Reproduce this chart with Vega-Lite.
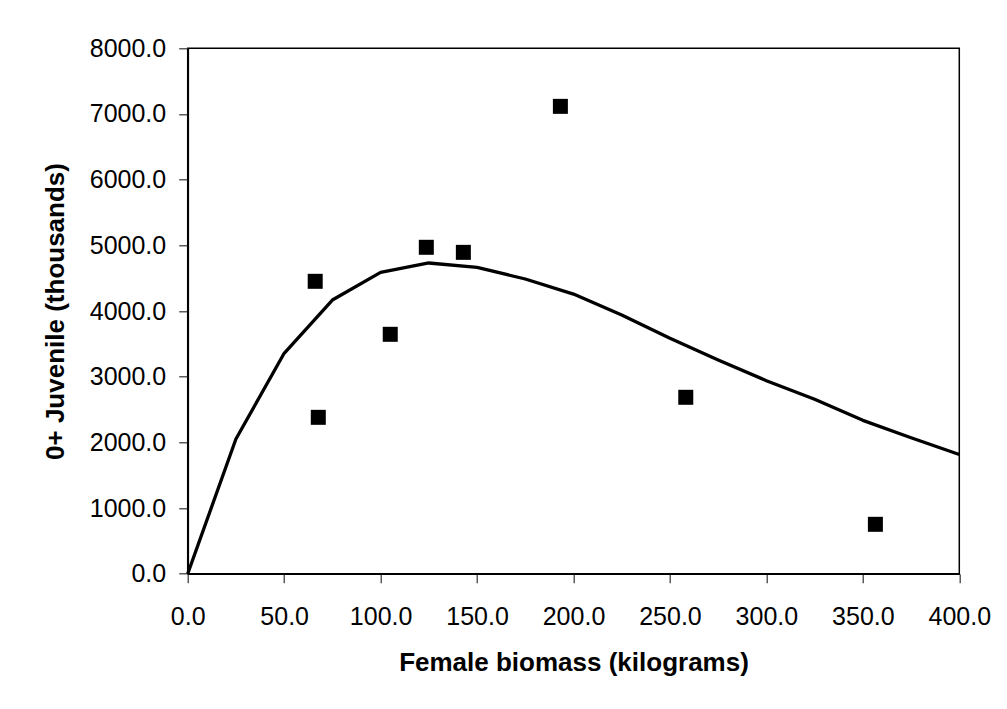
{
  "$schema": "https://vega.github.io/schema/vega-lite/v6.json",
  "width": 771.6,
  "height": 525.4,
  "autosize": {"type": "none"},
  "padding": {"left": 187.7, "top": 48.3, "right": 47.7, "bottom": 135.3},
  "background": "white",
  "config": {
    "font": "Liberation Sans",
    "view": {"stroke": "black", "strokeWidth": 1.5},
    "axis": {
      "grid": false,
      "domainColor": "black",
      "domainWidth": 1.8,
      "tickColor": "#333333",
      "tickWidth": 1.2,
      "tickSize": 9,
      "labelFont": "Liberation Sans",
      "labelFontSize": 25,
      "labelColor": "black",
      "labelFlush": false,
      "labelOverlap": false,
      "titleFont": "Liberation Sans",
      "titleFontSize": 26,
      "titleFontWeight": "bold",
      "titleColor": "black"
    }
  },
  "datasets": {
    "obs": [
      {"biomass": 66.1, "juveniles": 4452},
      {"biomass": 67.7, "juveniles": 2381},
      {"biomass": 105.0, "juveniles": 3645},
      {"biomass": 123.7, "juveniles": 4970},
      {"biomass": 142.9, "juveniles": 4893},
      {"biomass": 193.2, "juveniles": 7116},
      {"biomass": 258.2, "juveniles": 2686},
      {"biomass": 356.5, "juveniles": 752}
    ],
    "fit": [
      {"biomass": 0, "juveniles": 0},
      {"biomass": 25, "juveniles": 2050},
      {"biomass": 50, "juveniles": 3356},
      {"biomass": 75, "juveniles": 4167},
      {"biomass": 100, "juveniles": 4589},
      {"biomass": 125, "juveniles": 4731},
      {"biomass": 150, "juveniles": 4665},
      {"biomass": 175, "juveniles": 4487},
      {"biomass": 200, "juveniles": 4258},
      {"biomass": 225, "juveniles": 3939},
      {"biomass": 250, "juveniles": 3584},
      {"biomass": 275, "juveniles": 3254},
      {"biomass": 300, "juveniles": 2939},
      {"biomass": 325, "juveniles": 2655},
      {"biomass": 350, "juveniles": 2335},
      {"biomass": 375, "juveniles": 2071},
      {"biomass": 400, "juveniles": 1815}
    ]
  },
  "layer": [
    {
      "data": {"name": "fit"},
      "mark": {"type": "line", "color": "black", "strokeWidth": 3.3, "strokeJoin": "round"},
      "encoding": {
        "x": {
          "field": "biomass", "type": "quantitative",
          "scale": {"domain": [0, 400], "nice": false},
          "axis": {
            "title": "Female biomass (kilograms)",
            "values": [0, 50, 100, 150, 200, 250, 300, 350, 400],
            "format": ".1f",
            "labelPadding": 22,
            "titlePadding": 20
          }
        },
        "y": {
          "field": "juveniles", "type": "quantitative",
          "scale": {"domain": [0, 8000], "nice": false},
          "axis": {
            "title": "0+ Juvenile (thousands)",
            "values": [0, 1000, 2000, 3000, 4000, 5000, 6000, 7000, 8000],
            "format": ".1f",
            "labelPadding": 13,
            "titlePadding": 21
          }
        }
      }
    },
    {
      "data": {"name": "obs"},
      "mark": {"type": "point", "shape": "square", "filled": true, "color": "black", "opacity": 1, "size": 225},
      "encoding": {
        "x": {"field": "biomass", "type": "quantitative"},
        "y": {"field": "juveniles", "type": "quantitative"}
      }
    }
  ]
}
